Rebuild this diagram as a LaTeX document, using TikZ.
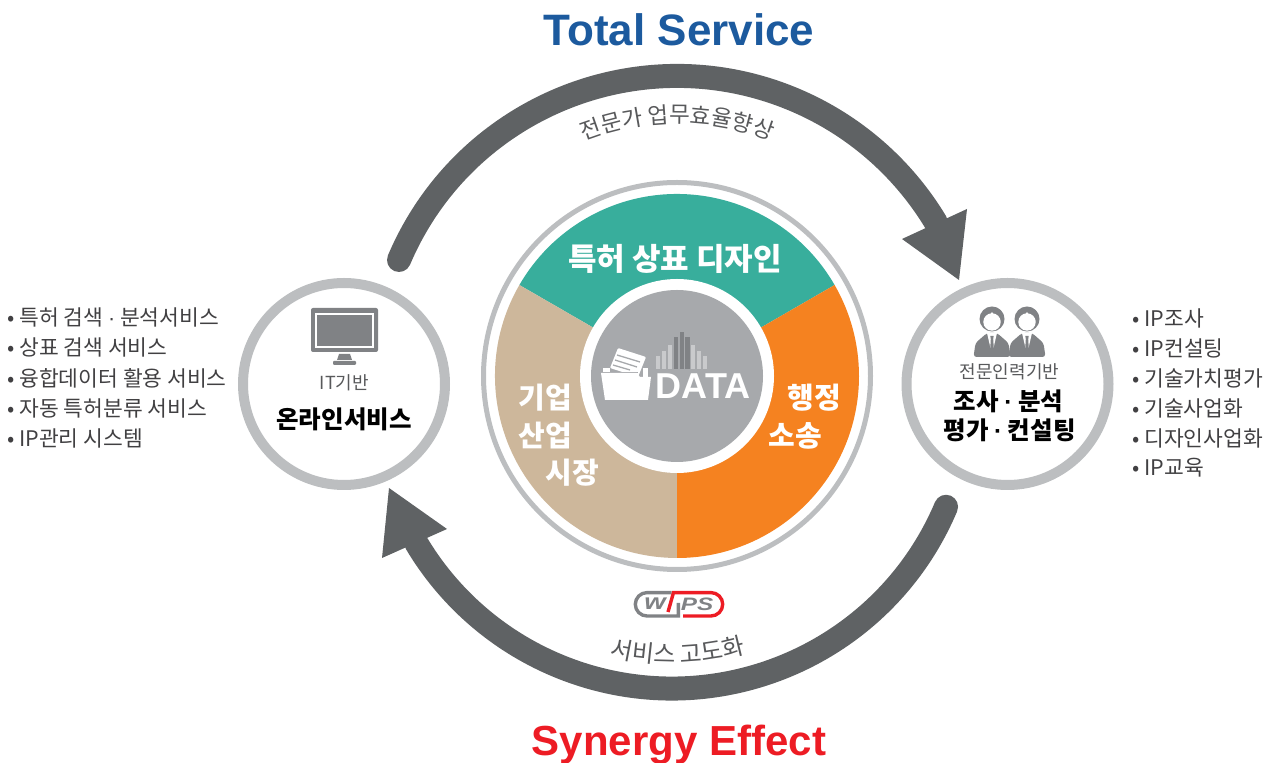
\documentclass[tikz,border=0pt]{standalone}
\usepackage{fontspec}
\setmainfont{Liberation Sans}
\newfontfamily\kr{Noto Sans CJK KR}
\newcommand{\ldot}{{\rmfamily\bfseries ·}}
\usetikzlibrary{decorations.text}
\definecolor{teal1}{HTML}{38AE9C}
\definecolor{tan1}{HTML}{CDB79B}
\definecolor{orange1}{HTML}{F58220}
\definecolor{disk}{HTML}{A7A9AC}
\definecolor{ringc}{HTML}{BCBEC0}
\definecolor{arrowc}{HTML}{5F6264}
\definecolor{blue1}{HTML}{1C5A9E}
\definecolor{red1}{HTML}{ED1C24}
\definecolor{icon}{HTML}{808285}
\definecolor{txt}{HTML}{414042}
\definecolor{sub}{HTML}{58595B}
\definecolor{barl}{HTML}{C9CACC}
\tikzset{
  title/.style={font=\fontsize{42}{42}\selectfont\bfseries},
  whitelab/.style={text=white,font=\kr\fontsize{29}{29}\selectfont\bfseries},
  listitem/.style={anchor=west,text=txt,inner sep=0pt,font=\kr\fontsize{21.5}{22}\selectfont},
  subhead/.style={text=sub,inner sep=0pt,font=\kr\fontsize{18}{18}\selectfont},
  mainhead/.style={text=black,inner sep=0pt,font=\kr\fontsize{24.5}{25}\selectfont\bfseries},
  bigring/.style={draw=ringc,line width=10pt,fill=white},
  flow/.style={draw=arrowc,line width=24pt,line cap=round},
}
\begin{document}
\begin{tikzpicture}[x=1pt,y=1pt]
\useasboundingbox (0,0) rectangle (1270,763);
\coordinate (mid) at (677,763-376);
\coordinate (topc) at (677,763-378);
\coordinate (botc) at (672,763-391);

% main flow arcs
\draw[flow] ([shift={(157:302pt)}]topc) arc[start angle=157,end angle=31,radius=302pt];
\fill[arrowc] (967,763-209) -- (902,763-239) -- (959,763-280) -- cycle;
\draw[flow] ([shift={(-22.9:297.5pt)}]botc) arc[start angle=-22.9,end angle=-149.3,radius=297.5pt];
\fill[arrowc] (389,763-488) -- (447,763-529) -- (382,763-558) -- cycle;

% centre wheel
\draw[ringc,line width=5pt] (mid) circle (193.5pt);
\fill[teal1] (mid) -- ++(30:182pt) arc[start angle=30,end angle=150,radius=182pt] -- cycle;
\fill[tan1] (mid) -- ++(150:182pt) arc[start angle=150,end angle=270,radius=182pt] -- cycle;
\fill[orange1] (mid) -- ++(270:182pt) arc[start angle=270,end angle=390,radius=182pt] -- cycle;
\fill[white] (mid) circle (97pt);
\fill[disk] (mid) circle (86pt);

% side circles
\node[bigring,circle,minimum size=202pt,inner sep=0pt] (left) at (344,763-384) {};
\node[bigring,circle,minimum size=202pt,inner sep=0pt] (right) at (1007.5,763-384) {};

% pixel-coordinate icons
\begin{scope}[shift={(0,763)},yscale=-1]
  % monitor
  \fill[icon,rounded corners=2pt] (311,308) rectangle (378,352);
  \draw[white,line width=1.4pt,fill=icon] (316,314) rectangle (373,347);
  \fill[icon] (339,354) -- (350,354) -- (352,360) -- (337,360) -- cycle;
  \fill[icon,rounded corners=1pt] (333,361) rectangle (356,365);
  % people
  \foreach \cx in {992,1027}{
    \fill[icon] (\cx,319) circle (12.5pt);
    \fill[white] (\cx,322) circle (8.7pt);
    \fill[white] (\cx-8.5,321) .. controls (\cx-6,318) and (\cx-2,316) .. (\cx,312)
       .. controls (\cx+2,316) and (\cx+6,318) .. (\cx+8.5,321) -- cycle;
    \fill[icon,rounded corners=3pt] (\cx-18.5,357) -- (\cx-16.5,343) -- (\cx-5,333) -- (\cx+5,333) -- (\cx+16.5,343) -- (\cx+18.5,357) -- cycle;
    \fill[white] (\cx-5,333) -- (\cx+5,333) -- (\cx+1.5,348) -- (\cx-1.5,348) -- cycle;
    \fill[icon] (\cx-1.7,336) -- (\cx+1.7,336) -- (\cx+1.2,339) -- (\cx+2,352) -- (\cx-2,352) -- (\cx-1.2,339) -- cycle;
  }
  % data bars
  \foreach \bx/\by/\bc in {656/356/barl,662/351/barl,667.5/345/barl,673.7/337/icon,679.7/332/icon,685.3/337/icon,691/345/barl,697/351/barl,702.7/356/barl}{
    \fill[\bc] (\bx,\by) rectangle (\bx+4.4,369);
  }
  % folder
  \fill[white] (603,368) rectangle (610,373);
  \fill[white] (643,368) rectangle (648,377);
  \fill[white,rounded corners=1pt] (618,348) -- (646,357) -- (638,377) -- (610,368) -- cycle;
  \draw[disk,line width=1.3pt] (617,355) -- (640,362);
  \draw[disk,line width=1.3pt] (615,360) -- (637,367);
  \draw[disk,line width=1.3pt] (613,365) -- (630,370);
  \draw[disk,line width=1pt] (601,372.5) -- (638,372.5);
  \fill[white] (601,373) -- (637,373) -- (640,377) -- (651,377) -- (648,400) -- (605,400) -- cycle;
\end{scope}

% WPS logo (y-up)
\draw[icon,line width=3.4pt,line join=miter] (671.7,763-592.6) -- (647,763-592.6) arc[start angle=90,end angle=270,radius=11.7pt] -- (678.3,763-616) -- (678.3,763-603);
\draw[red1,line width=3.4pt,line join=miter] (668,763-612) -- (673.5,763-592.6) -- (711,763-592.6) arc[start angle=90,end angle=-90,radius=11.7pt] -- (683,763-616);
\node[inner sep=0pt,text=icon,font=\fontsize{22}{22}\selectfont\bfseries\itshape] (logow) at (655,763-604) {\scalebox{1.25}[1]{w}};
\node[inner sep=0pt,text=icon,font=\fontsize{18}{18}\selectfont\bfseries\itshape] (logops) at (697,763-604) {\scalebox{1.35}[1]{PS}};

% DATA
\node[inner sep=0pt,text=white,font=\fontsize{36}{36}\selectfont\bfseries] (data) at (703,763-386.5) {DATA};

% titles
\node[title,text=blue1,font=\fontsize{44}{44}\selectfont\bfseries] (total) at (679,763-30) {Total Service};
\node[title,text=red1] (synergy) at (679,763-745) {Synergy Effect};

% curved labels
\path[decorate,decoration={text along path,text align=center,
  text={|\kr\fontsize{22.5}{23}\selectfont\color{sub}|전문가 업무효율향상}}]
  ([shift={(120:255pt)}]topc) arc[start angle=120,end angle=60,radius=255pt];
\path[decorate,decoration={text along path,text align=center,
  text={|\kr\fontsize{24}{24}\selectfont\color{sub}|서비스 고도화}}]
  ([shift={(-112:272pt)}]botc) arc[start angle=-112,end angle=-65.4,radius=272pt];

% wheel labels
\node[whitelab,font=\kr\fontsize{31}{31}\selectfont\bfseries] (seg1) at (675,763-259) {특허 상표 디자인};
\node[whitelab] (a1) at (545.5,763-398) {기업};
\node[whitelab] (a2) at (545.5,763-436) {산업};
\node[whitelab] (a3) at (572.5,763-473) {시장};
\node[whitelab] (b1) at (814,763-398) {행정};
\node[whitelab] (b2) at (795,763-436) {소송};

% side circle labels
\node[subhead] (itb) at (344.5,763-383) {IT기반};
\node[mainhead] (online) at (344,763-419) {온라인서비스};
\node[subhead] (pro) at (1009.5,763-372) {전문인력기반};
\node[mainhead] (s1) at (1008.5,763-401) {조사 \ldot{} 분석};
\node[mainhead] (s2) at (1009.5,763-430) {평가 \ldot{} 컨설팅};

% lists
\node[listitem] (l1) at (7,763-317) {• 특허 검색 {\rmfamily ·} 분석서비스};
\node[listitem] (l2) at (7,763-347) {• 상표 검색 서비스};
\node[listitem] (l3) at (7,763-378) {• 융합데이터 활용 서비스};
\node[listitem] (l4) at (7,763-408) {• 자동 특허분류 서비스};
\node[listitem] (l5) at (7,763-438) {• IP관리 시스템};
\node[listitem] (r1) at (1132,763-318) {• IP조사};
\node[listitem] (r2) at (1132,763-348) {• IP컨설팅};
\node[listitem] (r3) at (1132,763-378) {• 기술가치평가};
\node[listitem] (r4) at (1132,763-408) {• 기술사업화};
\node[listitem] (r5) at (1132,763-438) {• 디자인사업화};
\node[listitem] (r6) at (1132,763-468) {• IP교육};
\end{tikzpicture}
\end{document}
